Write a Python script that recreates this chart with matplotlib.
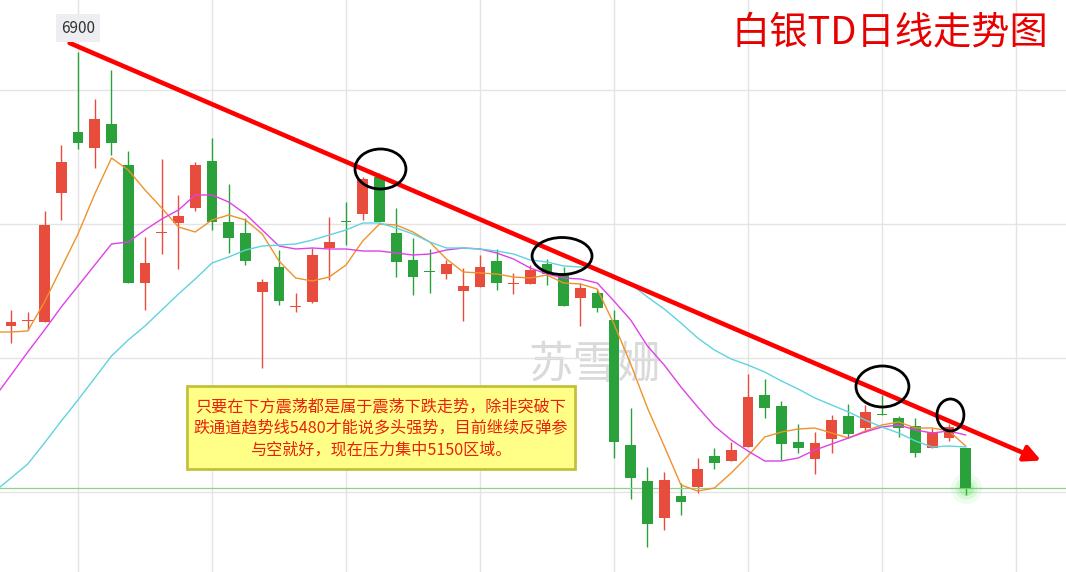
import matplotlib
matplotlib.use('Agg')
import matplotlib.pyplot as plt
from matplotlib.patches import Ellipse, Rectangle
import numpy as np

plt.rcParams['font.family'] = ['Noto Sans CJK SC', 'DejaVu Sans']

# daily candles, white silver TD
opens = [5804, 5824, 5820, 6336, 6580, 6516, 6612, 6448, 5976, 6176,
         6216, 6276, 6464, 6220, 6176, 5940, 6040, 5880, 5900, 6116,
         6224, 6252, 6400, 6176, 6068, 6024, 6012, 5944, 5960, 6064,
         5972, 5972, 6052, 6008, 5916, 5936, 5828, 5328, 5184, 5036,
         5124, 5160, 5284, 5264, 5320, 5528, 5484, 5340, 5272, 5352,
         5444, 5396, 5452, 5436, 5404, 5316, 5356, 5316]
closes = [5820, 5828, 6208, 6460, 6536, 6632, 6536, 5976, 6056, 6180,
          6244, 6448, 6220, 6156, 6064, 5980, 5904, 5884, 6088, 6140,
          6220, 6392, 6220, 6060, 6000, 6020, 6052, 5964, 6040, 5976,
          5976, 6028, 6012, 5884, 5956, 5876, 5340, 5196, 5012, 5188,
          5100, 5232, 5256, 5308, 5520, 5476, 5332, 5316, 5336, 5428,
          5372, 5460, 5448, 5396, 5296, 5380, 5400, 5156]
highs = [5868, 5860, 6264, 6528, 6900, 6712, 6828, 6504, 6160, 6472,
         6328, 6460, 6556, 6372, 6236, 5992, 6108, 5936, 6116, 6240,
         6300, 6400, 6416, 6276, 6156, 6112, 6068, 6036, 6088, 6112,
         6016, 6048, 6072, 6040, 5976, 5952, 5868, 5476, 5240, 5220,
         5176, 5276, 5316, 5340, 5612, 5592, 5504, 5412, 5380, 5448,
         5492, 5488, 5528, 5444, 5436, 5396, 5412, 5316]
lows = [5736, 5788, 5820, 6228, 6512, 6436, 6488, 5976, 5868, 6092,
        6032, 6264, 6188, 6096, 6048, 5636, 5888, 5860, 5896, 5988,
        6128, 6228, 6220, 6000, 5928, 5936, 5992, 5824, 5960, 5948,
        5932, 5972, 5968, 5884, 5804, 5860, 5276, 5112, 4920, 4988,
        5048, 5136, 5232, 5264, 5320, 5436, 5268, 5296, 5212, 5296,
        5356, 5380, 5448, 5360, 5280, 5316, 5344, 5128]

# moving averages; first value is where the line enters at the left edge
ma_x = [-0.66] + list(range(58))
ma5 = [5780, 5780, 5784, 5900, 6036, 6172, 6332, 6476, 6428, 6348, 6276,
       6200, 6180, 6228, 6248, 6228, 6172, 6064, 5996, 5984, 6000,
       6048, 6144, 6212, 6208, 6180, 6140, 6072, 6020, 6016, 6012,
       6000, 5996, 6008, 5976, 5972, 5952, 5812, 5652, 5476, 5324,
       5168, 5144, 5156, 5216, 5284, 5360, 5380, 5392, 5396, 5376,
       5356, 5384, 5408, 5420, 5396, 5396, 5384, 5324]
ma10 = [5548, 5608, 5700, 5788, 5880, 5964, 6048, 6132, 6140, 6188, 6232,
        6268, 6328, 6328, 6300, 6252, 6188, 6124, 6112, 6116, 6112,
        6112, 6104, 6104, 6096, 6088, 6092, 6108, 6116, 6112, 6096,
        6072, 6036, 6012, 5996, 5992, 5976, 5904, 5828, 5724, 5648,
        5560, 5480, 5404, 5348, 5304, 5264, 5264, 5276, 5308, 5332,
        5356, 5380, 5400, 5408, 5388, 5376, 5384, 5368]
ma20 = [5160, 5196, 5252, 5336, 5424, 5508, 5596, 5684, 5748, 5804, 5868,
        5932, 5992, 6056, 6080, 6108, 6124, 6128, 6132, 6148, 6168,
        6188, 6216, 6216, 6196, 6172, 6140, 6116, 6116, 6112, 6104,
        6092, 6068, 6060, 6044, 6040, 6036, 6008, 5972, 5920, 5872,
        5816, 5756, 5708, 5672, 5648, 5620, 5584, 5552, 5516, 5488,
        5460, 5428, 5400, 5376, 5344, 5320, 5324, 5320]

last_price = 5156
peak_label = '6900'

# hand-drawn trend line (x in candle index, y in price)
trend_x = [3.5, 61.5]
trend_y = [6936, 5266]

# circles drawn on the chart: (x, y, width, height)
circles = [(22.06, 6432, 3.04, 160),
           (32.9, 6084, 3.58, 148),
           (52.03, 5562, 3.16, 164),
           (56.09, 5448, 1.61, 128)]

note = ('只要在下方震荡都是属于震荡下跌走势，除非突破下\n'
        '跌通道趋势线5480才能说多头强势，目前继续反弹参\n'
        '与空就好，现在压力集中5150区域。')
title = '白银TD日线走势图'
watermark = '苏雪姗'

RED = '#e84c3d'
GREEN = '#2aa13a'

fig = plt.figure(figsize=(10.66, 5.72), dpi=100)
ax = fig.add_axes([0, 0, 1, 1])
ax.set_xlim(-0.657, 62.99)
ax.set_ylim(4820, 7108)

ax.set_xticks([4, 12, 20, 28, 36, 44, 52, 60])
ax.set_yticks([6748, 6212, 5676, 5140])
ax.grid(True, color='#e4e4e4', lw=1, zorder=0)
ax.tick_params(length=0, labelbottom=False, labelleft=False)
for s in ax.spines.values():
    s.set_visible(False)

ax.text(0.558, 0.362, watermark, transform=ax.transAxes, fontsize=32,
        color='#dadada', ha='center', va='center', zorder=1)

x = np.arange(len(opens))
o = np.array(opens)
c = np.array(closes)
colors = [RED if cc >= oo else GREEN for oo, cc in zip(o, c)]
ax.vlines(x, lows, highs, colors=colors, lw=1, zorder=2)
body = np.maximum(np.abs(c - o), 5)
ax.bar(x, body, bottom=np.minimum(o, c), width=0.64, color=colors, zorder=3)

ax.axhline(last_price, color='#8fd18f', lw=0.9, zorder=2)
for s, a in [(500, 0.08), (260, 0.12), (120, 0.2)]:
    ax.scatter([x[-1]], [last_price], s=s, color='#33dd33', alpha=a, lw=0, zorder=2)

ax.plot(ma_x, ma5, color='#f0922b', lw=1, zorder=4)
ax.plot(ma_x, ma10, color='#e040e8', lw=1, zorder=4)
ax.plot(ma_x, ma20, color='#5fd3e0', lw=1, zorder=4)

ax.annotate('', xy=(trend_x[1], trend_y[1]), xytext=(trend_x[0], trend_y[0]),
            arrowprops=dict(arrowstyle='-|>', color='#ff0000', lw=3.3,
                            mutation_scale=24, shrinkA=0, shrinkB=0),
            zorder=5)

for cx, cy, w, h in circles:
    ax.add_patch(Ellipse((cx, cy), w, h, fill=False, ec='black', lw=2, zorder=6))

ax.add_patch(Rectangle((0.1754, 0.180), 0.364, 0.145, transform=ax.transAxes,
                       fc='#ffff88', ec='#c2c23a', lw=2, zorder=7))
ax.text(0.3574, 0.2515, note, transform=ax.transAxes, fontsize=11.6,
        color='#e8200c', ha='center', va='center', linespacing=1.35,
        zorder=8)

ax.text(0.835, 0.942, title, transform=ax.transAxes, fontsize=27.5,
        color='#e60000', ha='center', va='center', zorder=8)

ax.text(0.0732, 0.951, peak_label, transform=ax.transAxes, fontsize=11,
        color='#333333', ha='center', va='center', zorder=8,
        bbox=dict(boxstyle='square,pad=0.35', fc='#eceef1', ec='none'))

fig.savefig('out.png', dpi=100)
